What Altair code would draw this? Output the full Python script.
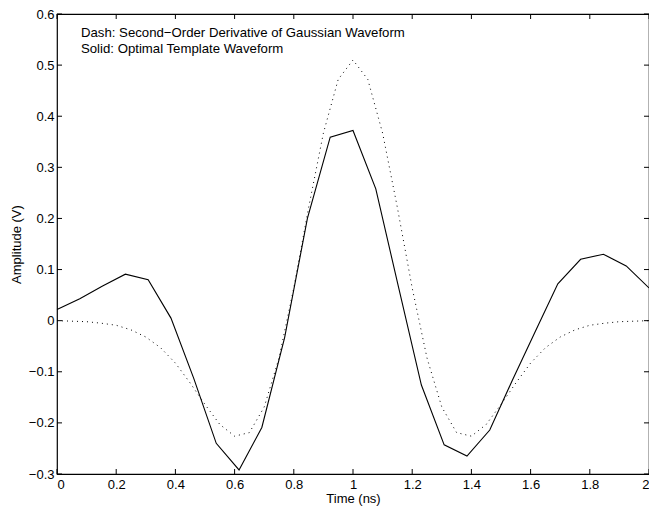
import altair as alt
import pandas as pd

# Solid: optimal template waveform
t_solid = [0.0, 0.077, 0.154, 0.231, 0.308, 0.385, 0.462, 0.538, 0.615, 0.692,
           0.769, 0.846, 0.923, 1.0, 1.077, 1.154, 1.231, 1.308, 1.385, 1.462,
           1.538, 1.615, 1.692, 1.769, 1.846, 1.923, 2.0]
v_solid = [0.022, 0.043, 0.068, 0.091, 0.080, 0.005, -0.113, -0.240, -0.292, -0.209,
           -0.033, 0.200, 0.359, 0.372, 0.258, 0.065, -0.126, -0.243, -0.265, -0.214,
           -0.117, -0.022, 0.072, 0.120, 0.130, 0.107, 0.064]

# Dotted: second-order derivative of Gaussian
t_dot = [0.0, 0.05, 0.1, 0.15, 0.2, 0.25, 0.3, 0.35, 0.4, 0.45, 0.5, 0.55, 0.6, 0.65,
         0.7, 0.75, 0.8, 0.85, 0.9, 0.95, 1.0, 1.05, 1.1, 1.15, 1.2, 1.25, 1.3, 1.35,
         1.4, 1.45, 1.5, 1.55, 1.6, 1.65, 1.7, 1.75, 1.8, 1.85, 1.9, 1.95, 2.0]
v_dot = [0.0, -0.001, -0.002, -0.005, -0.009, -0.018, -0.032, -0.053, -0.083, -0.122,
         -0.164, -0.203, -0.226, -0.219, -0.169, -0.073, 0.064, 0.221, 0.367, 0.472,
         0.51, 0.472, 0.367, 0.221, 0.064, -0.073, -0.169, -0.219, -0.226, -0.203,
         -0.164, -0.122, -0.083, -0.053, -0.032, -0.018, -0.009, -0.005, -0.002, -0.001, 0.0]

x_ticks = [0, 0.2, 0.4, 0.6, 0.8, 1.0, 1.2, 1.4, 1.6, 1.8, 2.0]
y_ticks = [-0.3, -0.2, -0.1, 0, 0.1, 0.2, 0.3, 0.4, 0.5, 0.6]

notes = ["Dash: Second\u2212Order Derivative of Gaussian Waveform",
         "Solid: Optimal Template Waveform"]
note_x = [0.081, 0.081]
note_y = [0.562, 0.531]

W, H = 592, 460
TL = 5
FONT = "Liberation Sans"
FS = 13

xs = alt.Scale(domain=[0, 2], nice=False, zero=False)
ys = alt.Scale(domain=[-0.3, 0.6], nice=False, zero=False)

df_solid = pd.DataFrame({"t": t_solid, "v": v_solid})
df_dot = pd.DataFrame({"t": t_dot, "v": v_dot})
df_xt = pd.DataFrame({"t": x_ticks})
df_yt = pd.DataFrame({"v": y_ticks})
df_notes = pd.DataFrame({"t": note_x, "v": note_y, "label": notes})

xaxis = alt.Axis(values=x_ticks, format="~g", title="Time (ns)", ticks=False, domain=False,
                 grid=False, labelPadding=4, titlePadding=1, labelFontSize=FS,
                 titleFontSize=FS, labelFont=FONT, titleFont=FONT, titleFontWeight="normal",
                 labelColor="black", titleColor="black")
yaxis = alt.Axis(values=y_ticks, format="~g", title="Amplitude (V)", ticks=False, domain=False,
                 grid=False, labelPadding=3, titlePadding=5, labelFontSize=FS,
                 titleFontSize=FS, labelFont=FONT, titleFont=FONT, titleFontWeight="normal",
                 labelColor="black", titleColor="black")

solid = alt.Chart(df_solid).mark_line(color="black", strokeWidth=1.1).encode(
    x=alt.X("t:Q", scale=xs, axis=xaxis),
    y=alt.Y("v:Q", scale=ys, axis=yaxis),
)
dotted = alt.Chart(df_dot).mark_line(color="black", strokeWidth=1, strokeDash=[1, 4]).encode(
    x=alt.X("t:Q", scale=xs),
    y=alt.Y("v:Q", scale=ys),
)

bottom_ticks = alt.Chart(df_xt).mark_rule(color="black", strokeWidth=1).encode(
    x=alt.X("t:Q", scale=xs), y=alt.value(H - TL), y2=alt.value(H))
top_ticks = alt.Chart(df_xt).mark_rule(color="black", strokeWidth=1).encode(
    x=alt.X("t:Q", scale=xs), y=alt.value(0), y2=alt.value(TL))
left_ticks = alt.Chart(df_yt).mark_rule(color="black", strokeWidth=1).encode(
    y=alt.Y("v:Q", scale=ys), x=alt.value(0), x2=alt.value(TL))
right_ticks = alt.Chart(df_yt).mark_rule(color="black", strokeWidth=1).encode(
    y=alt.Y("v:Q", scale=ys), x=alt.value(W - TL), x2=alt.value(W))

text = alt.Chart(df_notes).mark_text(align="left", baseline="middle", font=FONT,
                                     fontSize=13.2, color="black").encode(
    x=alt.X("t:Q", scale=xs), y=alt.Y("v:Q", scale=ys), text="label:N")

chart = alt.layer(dotted, solid, bottom_ticks, top_ticks, left_ticks, right_ticks, text).properties(
    width=W, height=H,
    autosize=alt.AutoSizeParams(type="none"),
    padding={"left": 49, "top": 6, "right": 0, "bottom": 32},
    background="white",
).configure_view(stroke="black", strokeWidth=1.2)

chart.save("out.html", embed_options={"renderer": "svg", "actions": False})
